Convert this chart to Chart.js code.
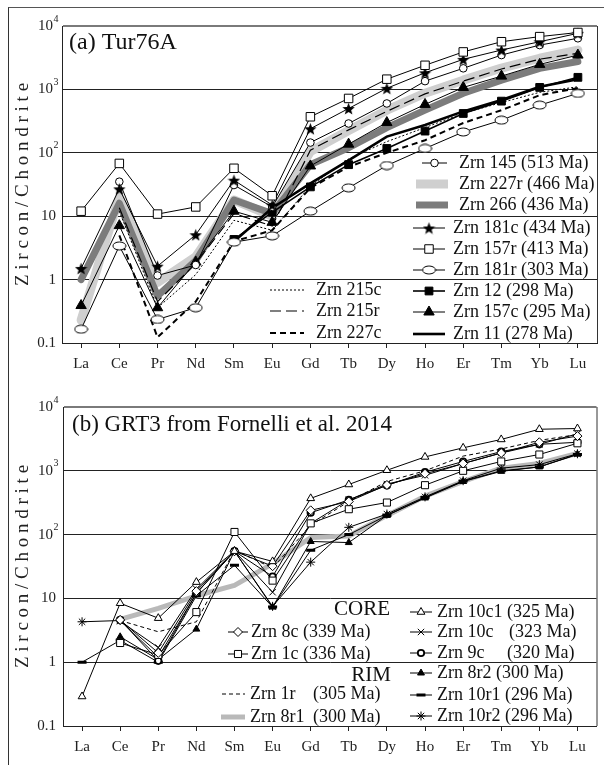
<!DOCTYPE html>
<html>
<head>
<meta charset="utf-8">
<script src="https://cdn.jsdelivr.net/npm/chart.js@4.4.1/dist/chart.umd.min.js"></script>
<style>
  html, body { margin: 0; padding: 0; background: #fff; }
  #wrap { position: relative; width: 604px; height: 765px; overflow: hidden; }
  #frame { position: absolute; left: 8px; top: 7px; width: 620px; height: 800px;
           border-left: 1px solid #333; border-top: 1px solid #555; }
  #ca { position: absolute; left: 0; top: 0; }
  #cb { position: absolute; left: 0; top: 380px; }
</style>
</head>
<body>
<div id="wrap">
  <div id="frame"></div>
  <canvas id="ca" width="604" height="380"></canvas>
  <canvas id="cb" width="604" height="385"></canvas>
</div>
<script>
// REE on the x axis
const ree = ['La', 'Ce', 'Pr', 'Nd', 'Sm', 'Eu', 'Gd', 'Tb', 'Dy', 'Ho', 'Er', 'Tm', 'Yb', 'Lu'];

// y ticks (log, chondrite normalised)
const yTickVals = [0.1, 1, 10, 100, 1000, 10000];
const yTickBase = ['0.1', '1', '10', '10', '10', '10'];
const yTickExp  = ['', '', '', '2', '3', '4'];
const yTitle = 'Z i r c o n / C h o n d r i t e';

// (a) Tur76A
const zrn145  = [null, 35, 1.16, 1.7, 31, 14, 145, 290, 600, 1350, 2150, 3480, 5000, 6400];
const zrn227r = [0.23, 20, 0.9, 2.3, 18, 10, 105, 225, 470, 870, 1400, 2170, 3100, 4170];
const zrn266  = [1.0, 16, 0.55, 2.0, 18, 11, 65, 120, 250, 470, 870, 1400, 2150, 2750];
const zrn181c = [1.5, 27, 1.63, 5.1, 37, 15, 240, 500, 1040, 1830, 2980, 4180, 5650, 7670];
const zrn157r = [12, 68, 10.8, 14, 57, 21, 370, 720, 1450, 2400, 3900, 5650, 6800, 7900];
const zrn181r = [0.165, 3.4, 0.235, 0.36, 3.9, 4.9, 12, 28, 63, 117, 213, 327, 565, 865];
const zrn12   = [null, null, null, null, 4.3, 11.5, 29, 65, 117, 220, 417, 653, 1075, 1550];
const zrn157c = [0.39, 7.1, 0.36, 1.9, 12, 8, 62, 137, 300, 580, 1075, 1620, 2480, 3480];
const zrn11   = [null, null, null, null, 4.0, 13.5, 33, 76, 180, 275, 450, 680, 1100, 1450];
const zrn215c = [null, 12, 0.36, 1.2, 8.6, 6, 30, 80, 150, 250, 420, 620, 900, 1100];
const zrn215r = [null, 13.6, 0.45, 1.8, 11, 7, 110, 230, 450, 850, 1350, 2100, 3000, 3700];
const zrn227c = [null, 5, 0.123, 0.45, 4, 6, 28, 60, 100, 158, 295, 470, 810, 1050];

// (b) GRT3 from Fornelli et al. 2014
const zrn8c   = [null, 4.6, 1.4, 13, 55, 32, 240, 330, 600, 900, 1300, 1900, 2800, 3500];
const zrn1c   = [null, 2.0, 1.3, 6.1, 110, 19, 150, 250, 318, 595, 1000, 1400, 1800, 2700];
const zrn1r   = [null, 4.5, 3.0, 4.3, 57, 30, 140, 330, 680, 1000, 1700, 2200, 3000, 3700];
const zrn8r1  = [null, 4.7, 7, 11, 16, 35, 90, 95, 200, 400, 680, 1100, 1300, 1880];
const zrn10c1 = [0.29, 8.4, 4.9, 18, 55, 38, 370, 610, 1020, 1650, 2290, 3100, 4480, 4600];
const zrn10c  = [null, 4.4, 1.7, 14, 55, 12.5, 150, 350, 620, 850, 1300, 1900, 2600, 3800];
const zrn9c   = [null, 4.6, 1.05, 12, 55, 22, 220, 350, 590, 950, 1400, 2000, 2600, 2800];
const zrn8r2  = [null, 2.5, 1.1, 3.3, 55, 7.3, 78, 75, 200, 375, 680, 980, 1150, 1820];
const zrn10r1 = [1.0, 2.2, 1.0, 11, 33, 7.3, 57, 100, 200, 380, 690, 1000, 1150, 1800];
const zrn10r2 = [4.3, 4.5, 1.2, 12, 55, 7.5, 37, 130, 210, 390, 700, 1100, 1250, 1850];

Chart.defaults.font.family = '"Liberation Serif", "Times New Roman", serif';
Chart.defaults.color = '#222';

// filled star and open ellipse markers
function makeStar(size) {
    const c = document.createElement('canvas');
    c.width = c.height = size;
    const g = c.getContext('2d');
    g.fillStyle = '#000';
    g.beginPath();
    for (let i = 0; i < 10; i++) {
        const r = i % 2 ? size * 0.21 : size * 0.5;
        const a = -Math.PI / 2 + i * Math.PI / 5;
        g.lineTo(size / 2 + r * Math.cos(a), size / 2 + 0.8 + r * Math.sin(a));
    }
    g.closePath();
    g.fill();
    return c;
}
function makeEllipse(w, h) {
    const c = document.createElement('canvas');
    c.width = w; c.height = h;
    const g = c.getContext('2d');
    g.fillStyle = '#fff';
    g.strokeStyle = '#000';
    g.lineWidth = 1;
    g.beginPath();
    g.ellipse(w / 2, h / 2, w / 2 - 1, h / 2 - 1, 0, 0, Math.PI * 2);
    g.fill();
    g.stroke();
    return c;
}
const starImg = makeStar(13);
const ellImg = makeEllipse(15, 10);

function ser(label, data, o) {
    return Object.assign({
        label: label, data: data,
        borderColor: '#000', borderWidth: 1,
        pointRadius: 0, pointStyle: 'circle',
        pointBackgroundColor: '#000', pointBorderColor: '#000', pointBorderWidth: 1,
        fill: false, tension: 0, spanGaps: false
    }, o);
}

// first dataset is drawn on top
const dsA = [
    ser('Zrn 157r (413 Ma)', zrn157r, { pointStyle: 'rect', pointRadius: 6, pointBackgroundColor: '#fff' }),
    ser('Zrn 181c (434 Ma)', zrn181c, { pointStyle: starImg, pointRadius: 6 }),
    ser('Zrn 145 (513 Ma)', zrn145, { pointStyle: 'circle', pointRadius: 3.8, pointBackgroundColor: '#fff' }),
    ser('Zrn 181r (303 Ma)', zrn181r, { pointStyle: ellImg, pointRadius: 6 }),
    ser('Zrn 12 (298 Ma)', zrn12, { pointStyle: 'rect', pointRadius: 5.5, borderWidth: 1.6 }),
    ser('Zrn 157c (295 Ma)', zrn157c, { pointStyle: 'triangle', pointRadius: 6 }),
    ser('Zrn 11 (278 Ma)', zrn11, { borderWidth: 2.6 }),
    ser('Zrn 215c', zrn215c, { borderDash: [2, 2] }),
    ser('Zrn 215r', zrn215r, { borderDash: [11, 5], borderWidth: 1.2 }),
    ser('Zrn 227c', zrn227c, { borderDash: [6, 4], borderWidth: 2 }),
    ser('Zrn 266 (436 Ma)', zrn266, { borderColor: '#7c7c7c', borderWidth: 7, borderJoinStyle: 'round', borderCapStyle: 'round' }),
    ser('Zrn 227r (466 Ma)', zrn227r, { borderColor: '#cfcfcf', borderWidth: 9, borderJoinStyle: 'round', borderCapStyle: 'round' })
];

const dsB = [
    ser('Zrn 10c1', zrn10c1, { pointStyle: 'triangle', pointRadius: 4.5, pointBackgroundColor: '#fff' }),
    ser('Zrn 8c', zrn8c, { pointStyle: 'rectRot', pointRadius: 4.5, pointBackgroundColor: '#fff' }),
    ser('Zrn 1c', zrn1c, { pointStyle: 'rect', pointRadius: 5, pointBackgroundColor: '#fff' }),
    ser('Zrn 9c', zrn9c, { pointStyle: 'circle', pointRadius: 3.2, pointBackgroundColor: '#fff', pointBorderWidth: 1.8 }),
    ser('Zrn 10c', zrn10c, { pointStyle: 'crossRot', pointRadius: 4.5 }),
    ser('Zrn 1r', zrn1r, { borderDash: [4, 3] }),
    ser('Zrn 8r2', zrn8r2, { pointStyle: 'triangle', pointRadius: 4 }),
    ser('Zrn 10r1', zrn10r1, { pointStyle: 'line', pointRadius: 4.5, pointBorderWidth: 3 }),
    ser('Zrn 10r2', zrn10r2, { pointStyle: 'star', pointRadius: 4.5 }),
    ser('Zrn 8r1', zrn8r1, { borderColor: '#b9b9b9', borderWidth: 5, borderJoinStyle: 'round', borderCapStyle: 'round' })
];

// legend placement: [dataset label, sample x0, x1, text x, y, age, age x]
const legendA = [
    ['Zrn 145 (513 Ma)', 422, 447, 459, 163],
    ['Zrn 227r (466 Ma)', 416, 448, 459, 184],
    ['Zrn 266 (436 Ma)', 416, 448, 459, 205],
    ['Zrn 181c (434 Ma)', 413, 445, 453, 228],
    ['Zrn 157r (413 Ma)', 413, 445, 453, 249],
    ['Zrn 181r (303 Ma)', 413, 445, 453, 270],
    ['Zrn 12 (298 Ma)', 413, 445, 453, 291],
    ['Zrn 157c (295 Ma)', 413, 445, 453, 312],
    ['Zrn 11 (278 Ma)', 413, 445, 453, 334],
    ['Zrn 215c', 270, 304, 316, 290],
    ['Zrn 215r', 270, 304, 316, 311],
    ['Zrn 227c', 270, 304, 316, 333]
];
const legendB = [
    ['Zrn 8c', 228, 248, 251, 252, '(339 Ma)', 0],
    ['Zrn 1c', 228, 248, 251, 274, '(336 Ma)', 0],
    ['Zrn 1r', 222, 245, 250, 314, '(305 Ma)', 313],
    ['Zrn 8r1', 221, 245, 250, 337, '(300 Ma)', 313],
    ['Zrn 10c1', 410, 432, 437, 232, '(325 Ma)', 0],
    ['Zrn 10c', 410, 432, 437, 252, '(323 Ma)', 509],
    ['Zrn 9c', 410, 432, 437, 273, '(320 Ma)', 507],
    ['Zrn 8r2', 410, 432, 437, 293, '(300 Ma)', 0],
    ['Zrn 10r1', 410, 432, 437, 315, '(296 Ma)', 0],
    ['Zrn 10r2', 410, 432, 437, 336, '(296 Ma)', 0]
];

function drawSample(ctx, ds, x0, x1, y) {
    ctx.save();
    ctx.strokeStyle = ds.borderColor;
    ctx.lineWidth = ds.borderWidth;
    ctx.setLineDash(ds.borderDash || []);
    ctx.beginPath();
    ctx.moveTo(x0, y);
    ctx.lineTo(x1, y);
    ctx.stroke();
    ctx.setLineDash([]);
    if (ds.pointRadius > 0) {
        ctx.fillStyle = ds.pointBackgroundColor;
        ctx.strokeStyle = ds.pointBorderColor;
        ctx.lineWidth = ds.pointBorderWidth;
        Chart.helpers.drawPoint(ctx, {
            pointStyle: ds.pointStyle, radius: ds.pointRadius,
            rotation: 0, borderWidth: ds.pointBorderWidth
        }, (x0 + x1) / 2, y);
    }
    ctx.restore();
}

function panelPlugin(cfg) {
    return {
        id: 'panel_' + cfg.key,
        afterDraw(chart) {
            const ctx = chart.ctx;
            const ys = chart.scales.y;
            const area = chart.chartArea;
            ctx.save();

            // right edge of the plot
            ctx.strokeStyle = '#333';
            ctx.lineWidth = 1;
            ctx.beginPath();
            ctx.moveTo(area.right + 0.5, area.top);
            ctx.lineTo(area.right + 0.5, area.bottom);
            ctx.stroke();

            // y tick labels with superscripts
            ctx.fillStyle = '#222';
            ctx.textBaseline = 'middle';
            yTickVals.forEach((v, i) => {
                const py = ys.getPixelForValue(v);
                ctx.font = '15px "Liberation Serif"';
                ctx.textAlign = 'right';
                if (yTickExp[i]) {
                    ctx.fillText(yTickBase[i], 53, py);
                    ctx.font = '10px "Liberation Serif"';
                    ctx.textAlign = 'left';
                    ctx.fillText(yTickExp[i], 53.5, py - 7);
                } else {
                    ctx.fillText(yTickBase[i], 56, py);
                }
            });

            // y axis title
            ctx.save();
            ctx.translate(23, (area.top + area.bottom) / 2);
            ctx.rotate(-Math.PI / 2);
            ctx.textAlign = 'center';
            ctx.font = '19px "Liberation Serif"';
            ctx.fillText(yTitle, 0, 0);
            ctx.restore();

            // panel title
            ctx.textAlign = 'left';
            ctx.font = cfg.titleSize + 'px "Liberation Serif"';
            ctx.fillStyle = '#111';
            ctx.fillText(cfg.title, cfg.titleX, cfg.titleY);

            // legend
            cfg.legend.forEach(e => {
                const ds = chart.data.datasets.find(d => d.label === e[0]);
                drawSample(ctx, ds, e[1], e[2], e[4]);
                ctx.fillStyle = '#111';
                ctx.font = '18px "Liberation Serif"';
                ctx.textAlign = 'left';
                let txt = e[0];
                if (e[5] && !e[6]) txt += ' ' + e[5];
                ctx.fillText(txt, e[3], e[4]);
                if (e[5] && e[6]) ctx.fillText(e[5], e[6], e[4]);
            });

            (cfg.extra || []).forEach(t => {
                ctx.font = t.size + 'px "Liberation Serif"';
                ctx.textAlign = 'right';
                ctx.fillStyle = '#111';
                ctx.fillText(t.text, t.x, t.y);
            });
            ctx.restore();
        }
    };
}

function makeOptions(padTop, yWidth, xHeight) {
    return {
        responsive: false,
        animation: false,
        layout: { padding: { top: padTop, right: 6, left: 0, bottom: 0 } },
        plugins: { legend: { display: false }, tooltip: { enabled: false } },
        scales: {
            x: {
                type: 'category',
                offset: true,
                grid: { display: true, drawOnChartArea: false, drawTicks: true, tickLength: 5, color: '#222' },
                border: { display: true, color: '#222' },
                ticks: { font: { size: 15 }, color: '#222', padding: 7, autoSkip: false, maxRotation: 0 },
                afterFit(s) { s.height = xHeight; }
            },
            y: {
                type: 'logarithmic',
                min: 0.1,
                max: 10000,
                afterBuildTicks(s) { s.ticks = yTickVals.map(v => ({ value: v })); },
                ticks: { display: false },
                grid: {
                    drawTicks: false,
                    color: c => (c.tick && c.tick.value === 10000) ? '#7a7a7a' : '#222',
                    lineWidth: c => (c.tick && c.tick.value === 10000) ? 2 : 1
                },
                border: { display: true, color: '#222' },
                afterFit(s) { s.width = yWidth; }
            }
        }
    };
}

new Chart(document.getElementById('ca'), {
    type: 'line',
    data: { labels: ree, datasets: dsA },
    options: makeOptions(26, 62, 37),
    plugins: [panelPlugin({
        key: 'a', title: '(a) Tur76A', titleSize: 24, titleX: 69, titleY: 43,
        legend: legendA
    })]
});

new Chart(document.getElementById('cb'), {
    type: 'line',
    data: { labels: ree, datasets: dsB },
    options: makeOptions(27, 63, 39),
    plugins: [panelPlugin({
        key: 'b', title: '(b) GRT3 from Fornelli et al. 2014', titleSize: 23, titleX: 72, titleY: 45,
        legend: legendB,
        extra: [
            { text: 'CORE', x: 390, y: 229, size: 21 },
            { text: 'RIM', x: 391, y: 295, size: 21 }
        ]
    })]
});
</script>
</body>
</html>
